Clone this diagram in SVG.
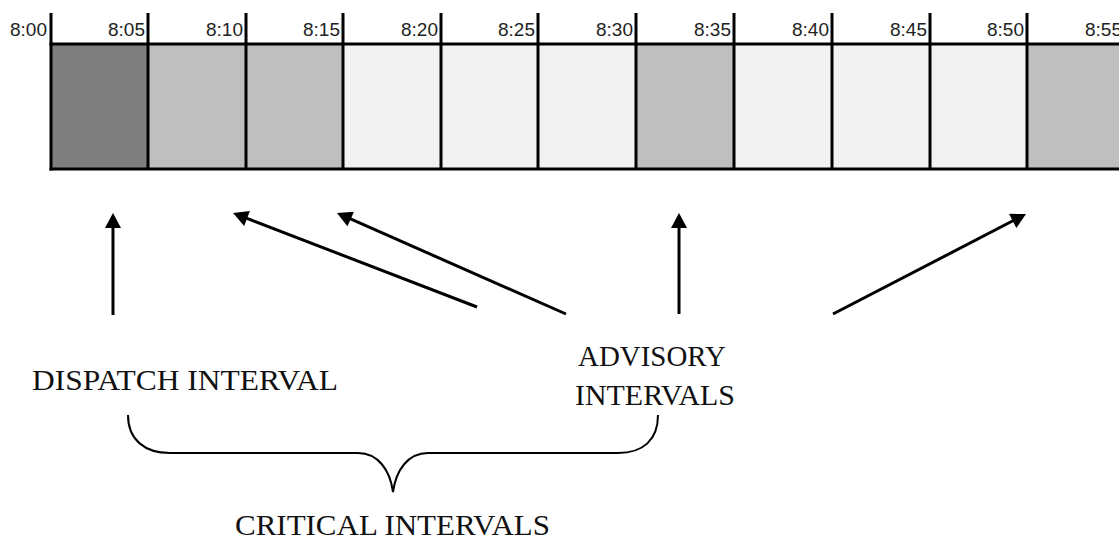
<svg xmlns="http://www.w3.org/2000/svg" width="1119" height="539" viewBox="0 0 1119 539">
  <defs>
    <marker id="ah" markerUnits="userSpaceOnUse" markerWidth="16" markerHeight="16" refX="7" refY="8" orient="auto" viewBox="0 0 15 16">
      <path d="M0,0 L15,8 L0,16 z" fill="#000"/>
    </marker>
    <style>
      .tick { font-family: "Liberation Sans", Arial, sans-serif; font-size: 19px; fill: #222; text-anchor: end; }
      .lbl { font-family: "Liberation Serif", "Times New Roman", serif; font-size: 29px; fill: #111; }
      .grid { stroke: #000; stroke-width: 3; fill: none; }
      .conn { stroke: #000; stroke-width: 3; fill: none; marker-end: url(#ah); }
      .dark { fill: #7f7f7f; }
      .mid { fill: #bfbfbf; }
      .light { fill: #f2f2f2; }
    </style>
  </defs>
  <rect width="1119" height="539" fill="#fff"/>

  <g id="timeline">
    <rect class="dark" x="51" y="44" width="97" height="125"/>
    <rect class="mid" x="148" y="44" width="195" height="125"/>
    <rect class="light" x="343" y="44" width="293" height="125"/>
    <rect class="mid" x="636" y="44" width="98" height="125"/>
    <rect class="light" x="734" y="44" width="293" height="125"/>
    <rect class="mid" x="1027" y="44" width="92" height="125"/>
    <line class="grid" x1="49.5" y1="44" x2="1119" y2="44"/>
    <line class="grid" x1="49.5" y1="169" x2="1119" y2="169"/>
    <line class="grid" x1="51" y1="13" x2="51" y2="170.5"/>
    <line class="grid" x1="148" y1="13" x2="148" y2="169"/>
    <line class="grid" x1="246" y1="13" x2="246" y2="169"/>
    <line class="grid" x1="343" y1="13" x2="343" y2="169"/>
    <line class="grid" x1="441" y1="13" x2="441" y2="169"/>
    <line class="grid" x1="538" y1="13" x2="538" y2="169"/>
    <line class="grid" x1="636" y1="13" x2="636" y2="169"/>
    <line class="grid" x1="734" y1="13" x2="734" y2="169"/>
    <line class="grid" x1="832" y1="13" x2="832" y2="169"/>
    <line class="grid" x1="930" y1="13" x2="930" y2="169"/>
    <line class="grid" x1="1027" y1="13" x2="1027" y2="169"/>
    <text class="tick" x="47" y="36" textLength="37" lengthAdjust="spacingAndGlyphs">8:00</text>
    <text class="tick" x="145" y="36" textLength="37" lengthAdjust="spacingAndGlyphs">8:05</text>
    <text class="tick" x="243" y="36" textLength="37" lengthAdjust="spacingAndGlyphs">8:10</text>
    <text class="tick" x="340" y="36" textLength="37" lengthAdjust="spacingAndGlyphs">8:15</text>
    <text class="tick" x="438" y="36" textLength="37" lengthAdjust="spacingAndGlyphs">8:20</text>
    <text class="tick" x="535" y="36" textLength="37" lengthAdjust="spacingAndGlyphs">8:25</text>
    <text class="tick" x="633" y="36" textLength="37" lengthAdjust="spacingAndGlyphs">8:30</text>
    <text class="tick" x="731" y="36" textLength="37" lengthAdjust="spacingAndGlyphs">8:35</text>
    <text class="tick" x="829" y="36" textLength="37" lengthAdjust="spacingAndGlyphs">8:40</text>
    <text class="tick" x="927" y="36" textLength="37" lengthAdjust="spacingAndGlyphs">8:45</text>
    <text class="tick" x="1024" y="36" textLength="37" lengthAdjust="spacingAndGlyphs">8:50</text>
    <text class="tick" x="1122" y="36" textLength="37" lengthAdjust="spacingAndGlyphs">8:55</text>
  </g>

  <g id="dispatch">
    <text class="lbl" x="32" y="390" textLength="306" lengthAdjust="spacingAndGlyphs">DISPATCH INTERVAL</text>
  </g>
  <g id="advisory">
    <text class="lbl" x="578" y="366" textLength="148" lengthAdjust="spacingAndGlyphs">ADVISORY</text>
    <text class="lbl" x="575" y="405" textLength="160" lengthAdjust="spacingAndGlyphs">INTERVALS</text>
  </g>
  <g id="critical">
    <path d="M128,415 C128,440 145,453 170,453 L358,453 C378,453 390,470 393,492 C396,470 408,453 428,453 L618,453 C643,453 658,440 658,415" stroke="#000" stroke-width="2" fill="none"/>
    <text class="lbl" x="235" y="535" textLength="315" lengthAdjust="spacingAndGlyphs">CRITICAL INTERVALS</text>
  </g>

  <g id="connectors">
    <line class="conn" x1="113" y1="315" x2="113" y2="221"/>
    <line class="conn" x1="477" y1="307" x2="240.5" y2="215.9"/>
    <line class="conn" x1="566" y1="314" x2="344.3" y2="216.2"/>
    <line class="conn" x1="679" y1="314" x2="679" y2="221"/>
    <line class="conn" x1="833" y1="314" x2="1018.9" y2="217.7"/>
  </g>
</svg>
